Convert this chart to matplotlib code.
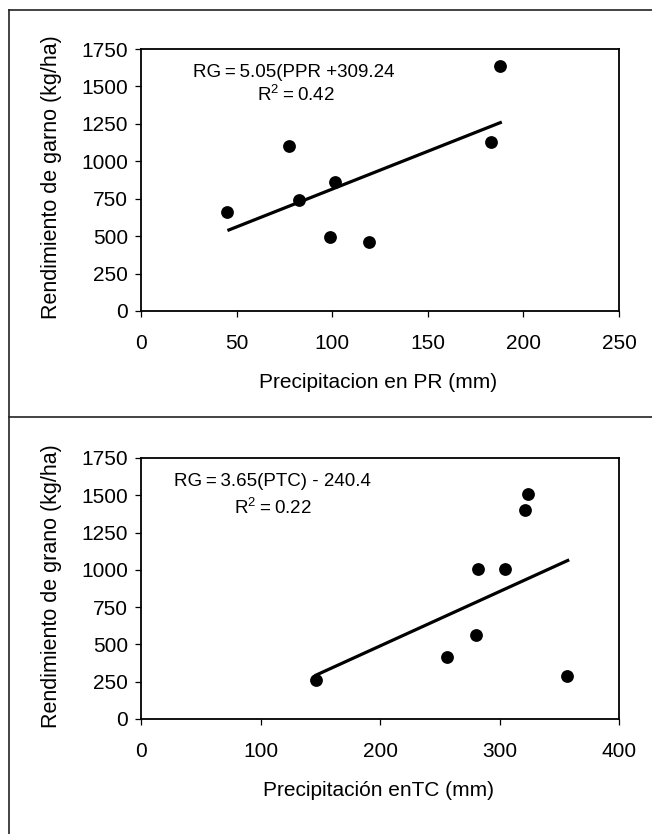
import matplotlib
matplotlib.use("Agg")
import matplotlib.pyplot as plt
from matplotlib import font_manager
from matplotlib.lines import Line2D
import numpy as np

# ---- data ----
pr_x = [45.2, 77.6, 82.6, 101.7, 98.7, 119.3, 183.3, 187.6]
pr_y = [660, 1101, 740, 860, 497, 459, 1126, 1636]
pr_slope, pr_icept = 5.05, 309.24
pr_fit_range = [45.2, 188.7]

tc_x = [146.1, 256.3, 280.3, 281.7, 305.0, 321.7, 323.5, 356.5]
tc_y = [259, 419, 566, 1005, 1005, 1404, 1511, 285]
tc_slope, tc_icept = 3.65, -240.4
tc_fit_range = [145.4, 358.3]

y_ticks = [0, 250, 500, 750, 1000, 1250, 1500, 1750]
pr_xticks = [0, 50, 100, 150, 200, 250]
tc_xticks = [0, 100, 200, 300, 400]

pr_xlabel = "Precipitacion en PR (mm)"
pr_ylabel = "Rendimiento de garno (kg/ha)"
tc_xlabel = "Precipitación enTC (mm)"
tc_ylabel = "Rendimiento de grano (kg/ha)"
pr_eq = "RG\u2009=\u20095.05(PPR +309.24"
pr_r2 = "R$^2$\u2009=\u20090.42"
tc_eq = "RG\u2009=\u20093.65(PTC) - 240.4"
tc_r2 = "R$^2$\u2009=\u20090.22"

def pick(names):
    for n in names:
        try:
            font_manager.findfont(font_manager.FontProperties(family=n), fallback_to_default=False)
            return n
        except Exception:
            pass
    return "DejaVu Sans"

base = pick(["Liberation Sans", "Arial"])
plt.rcParams['font.family'] = [base, 'DejaVu Sans']
plt.rcParams['mathtext.fontset'] = 'custom'
plt.rcParams['mathtext.rm'] = base

W, H = 652, 834
fig = plt.figure(figsize=(W / 100, H / 100), dpi=100)

def fx(px):
    return px / W

def fy(py):
    return 1 - py / H

# outer border and divider
lc = '#222222'
fig.add_artist(Line2D([fx(9), fx(9)], [fy(9.5), fy(834)], color=lc, lw=1.2))
fig.add_artist(Line2D([fx(9), fx(652)], [fy(9.5), fy(9.5)], color=lc, lw=1.2))
fig.add_artist(Line2D([fx(9), fx(652)], [fy(417), fy(417)], color=lc, lw=1.2))

def panel(top_px, bot_px, xs, ys, slope, icept, rng, xticks, xmax, xlabel, ylabel, eq, r2, eq_pos, r2_pos):
    ax = fig.add_axes([fx(141), fy(bot_px), (619 - 141) / W, (bot_px - top_px) / H])
    ax.scatter(xs, ys, s=85, color='black', zorder=3, linewidths=0)
    fx_line = np.array(rng)
    ax.plot(fx_line, slope * fx_line + icept, color='black', lw=2.3, solid_capstyle='butt')
    ax.set_xlim(0, xmax)
    ax.set_ylim(0, 1750)
    ax.set_xticks(xticks)
    ax.set_yticks(y_ticks)
    ax.tick_params(direction='out', length=4.5, width=0.9, labelsize=15, top=False, right=False)
    ax.tick_params(axis='x', pad=12)
    ax.tick_params(axis='y', pad=5)
    for s in ax.spines.values():
        s.set_linewidth(1.3)
        s.set_color('black')
    ax.set_xlabel(xlabel, fontsize=15)
    ax.xaxis.label.set_va('center')
    ax.xaxis.set_label_coords(0.496, -72 / (bot_px - top_px))
    ax.set_ylabel(ylabel, fontsize=15.5)
    ax.yaxis.label.set_va('center')
    ax.yaxis.set_label_coords(-89 / 478, 0.51)
    ax.text(eq_pos[0], eq_pos[1], eq, fontsize=13.5, ha='center', va='center')
    ax.text(r2_pos[0], r2_pos[1], r2, fontsize=13.5, ha='center', va='center')
    return ax

panel(49, 311, pr_x, pr_y, pr_slope, pr_icept, pr_fit_range, pr_xticks, 250,
      pr_xlabel, pr_ylabel, pr_eq, pr_r2, (80, 1596), (81, 1443))
panel(458, 719, tc_x, tc_y, tc_slope, tc_icept, tc_fit_range, tc_xticks, 400,
      tc_xlabel, tc_ylabel, tc_eq, tc_r2, (110, 1591), (110, 1415))

fig.savefig("out.png", dpi=100)
